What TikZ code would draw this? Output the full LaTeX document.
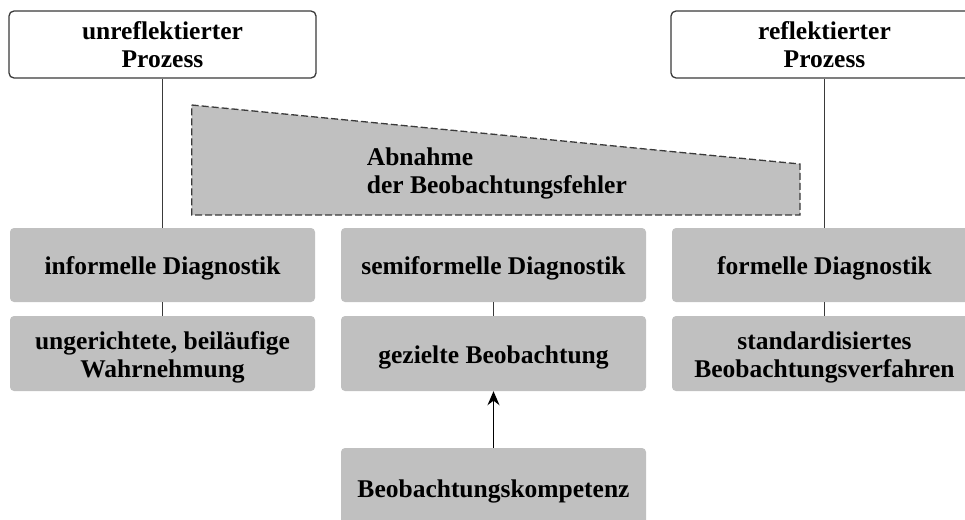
\documentclass[tikz,border=0pt]{standalone}
\usepackage{fontspec}
\setmainfont{Liberation Serif}
\usetikzlibrary{arrows.meta}
\definecolor{boxgray}{HTML}{C0C0C0}
\definecolor{linegray}{HTML}{3A3A3A}
\begin{document}
\begin{tikzpicture}[x=1pt,y=-1pt,
  lbl/.style={font=\bfseries\fontsize{25.5}{28}\selectfont, align=center, inner sep=0pt},
  procbox/.style={lbl, draw=linegray, line width=1.3pt, fill=white, rounded corners=5pt,
    minimum width=307pt, minimum height=67pt},
  % gray box; its text sits slightly below the geometric centre
  graybox/.style={fill=boxgray, rounded corners=4pt, inner sep=0pt,
    minimum width=305pt, minimum height=74pt,
    label={[lbl, yshift=-3.5pt]center:#1}},
  link/.style={draw=linegray, line width=1.2pt},
  trap/.style={draw=linegray, fill=boxgray, line width=1.3pt, dash pattern=on 7pt off 3pt}
]
\useasboundingbox (0,0) rectangle (965,519);
\clip (0,0) rectangle (965,519);

% process boxes
\node[procbox] (tl) at (162.5,44.5) {unreflektierter\\Prozess};
\node[procbox] (tr) at (824.5,44.5) {reflektierter\\Prozess};

% decreasing observation errors
\draw[trap] (191.7,105) -- (800,164) -- (800,215) -- (191.7,215) -- cycle;
\node[lbl, align=left, anchor=west] (err) at (366.7,173.5) {Abnahme\\der Beobachtungsfehler};

% diagnostic forms
\node[graybox={informelle Diagnostik}] (gl1) at (162.5,265) {};
\node[graybox={semiformelle Diagnostik}] (gm1) at (493.5,265) {};
\node[graybox={formelle Diagnostik}] (gr1) at (824.5,265) {};

% observation modes
\node[graybox={ungerichtete, beiläufige\\Wahrnehmung}, minimum height=75pt] (gl2) at (162.5,353.5) {};
\node[graybox={gezielte Beobachtung}, minimum height=75pt] (gm2) at (493.5,353.5) {};
\node[graybox={standardisiertes\\Beobachtungsverfahren}, minimum height=75pt] (gr2) at (824.5,353.5) {};

% competence
\node[graybox={Beobachtungskompetenz}, minimum height=79pt] (gb) at (493.5,487.5) {};

% connectors
\draw[link] (tl.south) -- (gl1.north);
\draw[link] (tr.south) -- (gr1.north);
\draw[link] (gl1.south) -- (gl2.north);
\draw[link] (gm1.south) -- (gm2.north);
\draw[link] (gr1.south) -- (gr2.north);
\draw[link, draw=black, line width=1.6pt, -{Stealth[length=14pt,width=12pt]}] (gb.north) -- (gm2.south);
\end{tikzpicture}
\end{document}
